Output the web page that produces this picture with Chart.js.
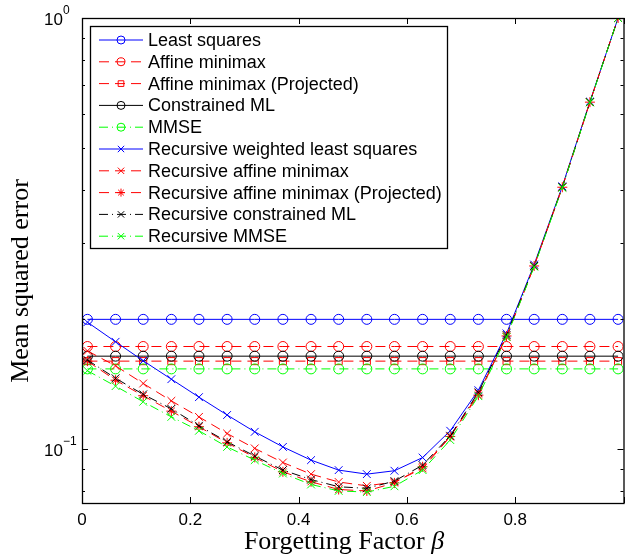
<!DOCTYPE html>
<html>
<head>
<meta charset="utf-8">
<script src="https://cdn.jsdelivr.net/npm/chart.js@4.4.0/dist/chart.umd.min.js"></script>
<style>
  html, body { margin: 0; padding: 0; background: #fff; overflow: hidden; width: 626px; height: 556px; }
  canvas { display: block; }
</style>
</head>
<body>
<canvas id="mseChart" width="630" height="556"></canvas>
<script>
// forgetting factor values (x)
const betaValues = [0.01, 0.062, 0.113, 0.165, 0.216, 0.268, 0.319, 0.371, 0.423, 0.474,
                    0.526, 0.577, 0.629, 0.680, 0.732, 0.784, 0.835, 0.887, 0.938, 0.99];

// batch estimators (flat in beta)
const leastSquares   = [0.2, 0.2, 0.2, 0.2, 0.2, 0.2, 0.2, 0.2, 0.2, 0.2, 0.2, 0.2, 0.2, 0.2, 0.2, 0.2, 0.2, 0.2, 0.2, 0.2];
const affineMinimax  = [0.173, 0.173, 0.173, 0.173, 0.173, 0.173, 0.173, 0.173, 0.173, 0.173, 0.173, 0.173, 0.173, 0.173, 0.173, 0.173, 0.173, 0.173, 0.173, 0.173];
const affineProj     = [0.160, 0.160, 0.160, 0.160, 0.160, 0.160, 0.160, 0.160, 0.160, 0.160, 0.160, 0.160, 0.160, 0.160, 0.160, 0.160, 0.160, 0.160, 0.160, 0.160];
const constrainedML  = [0.1643, 0.1643, 0.1643, 0.1643, 0.1643, 0.1643, 0.1643, 0.1643, 0.1643, 0.1643, 0.1643, 0.1643, 0.1643, 0.1643, 0.1643, 0.1643, 0.1643, 0.1643, 0.1643, 0.1643];
const mmse           = [0.1535, 0.1535, 0.1535, 0.1535, 0.1535, 0.1535, 0.1535, 0.1535, 0.1535, 0.1535, 0.1535, 0.1535, 0.1535, 0.1535, 0.1535, 0.1535, 0.1535, 0.1535, 0.1535, 0.1535];

// recursive estimators
const recWLS         = [0.197, 0.1774, 0.1603, 0.1453, 0.132, 0.120, 0.1097, 0.1012, 0.0943, 0.0894, 0.0875, 0.0891, 0.0956, 0.1103, 0.137, 0.1855, 0.268, 0.407, 0.640, 1.0];
const recAffine      = [0.169, 0.156, 0.142, 0.1294, 0.1188, 0.1087, 0.1004, 0.0931, 0.0875, 0.0839, 0.0822, 0.0839, 0.0902, 0.1069, 0.1346, 0.182, 0.266, 0.405, 0.638, 1.0];
const recAffineProj  = [0.160, 0.1445, 0.133, 0.1225, 0.1127, 0.1034, 0.0957, 0.0886, 0.0840, 0.0806, 0.0800, 0.0835, 0.0910, 0.107, 0.1334, 0.183, 0.266, 0.405, 0.638, 1.0];
const recCML         = [0.161, 0.146, 0.134, 0.124, 0.1133, 0.104, 0.0964, 0.0894, 0.0850, 0.0818, 0.0811, 0.0843, 0.0918, 0.1074, 0.1355, 0.184, 0.266, 0.405, 0.638, 1.0];
const recMMSE        = [0.152, 0.140, 0.1288, 0.1188, 0.1103, 0.1012, 0.0943, 0.0878, 0.0828, 0.0800, 0.0795, 0.0820, 0.0894, 0.105, 0.1327, 0.182, 0.265, 0.404, 0.637, 1.0];

const xTicks = [0, 0.2, 0.4, 0.6, 0.8, 1.0];
const xTickLabels = ['0', '0.2', '0.4', '0.6', '0.8', ''];
const yMajorTicks = [0.1, 1];
const yMajorExp = ['\u22121', '0'];
const yMinorTicks = [0.08, 0.09, 0.2, 0.3, 0.4, 0.5, 0.6, 0.7, 0.8, 0.9];

const DASH = [10, 6];
const DASHDOT = [9, 4, 1, 4];

const mk = (label, values, color, dash, style, radius) => ({
    label,
    data: betaValues.map((b, i) => ({ x: b, y: values[i] })),
    borderColor: color,
    backgroundColor: 'transparent',
    borderWidth: 1,
    borderDash: dash,
    pointStyle: style,
    pointRadius: radius,
    pointBorderColor: color,
    pointBackgroundColor: 'transparent',
    pointBorderWidth: 1,
    tension: 0,
    fill: false
});

const datasets = [
    mk('Least squares', leastSquares, '#0000ff', [], 'circle', 5),
    mk('Affine minimax', affineMinimax, '#ff0000', DASH, 'circle', 5),
    mk('Affine minimax (Projected)', affineProj, '#ff0000', DASH, 'rect', 5),
    mk('Constrained ML', constrainedML, '#000000', [], 'circle', 5),
    mk('MMSE', mmse, '#00ff00', DASHDOT, 'circle', 5),
    mk('Recursive weighted least squares', recWLS, '#0000ff', [], 'crossRot', 5.5),
    mk('Recursive affine minimax', recAffine, '#ff0000', DASH, 'crossRot', 5.5),
    mk('Recursive affine minimax (Projected)', recAffineProj, '#ff0000', DASH, 'star', 5),
    mk('Recursive constrained ML', recCML, '#000000', DASHDOT, 'crossRot', 5.5),
    mk('Recursive MMSE', recMMSE, '#00ff00', DASHDOT, 'crossRot', 5.5)
];
// matlab draws later lines on top
datasets.forEach((d, i) => { d.order = datasets.length - i; });

const SANS = '"Liberation Sans", Arial, Helvetica, sans-serif';
const SERIF = '"Liberation Serif", "Times New Roman", Times, serif';

// axes box, inward ticks, labels and legend in matlab style
const matlabAxes = {
    id: 'matlabAxes',
    afterDraw(chart) {
        const { ctx, chartArea: a, scales: { x, y } } = chart;
        ctx.save();
        ctx.strokeStyle = '#000';
        ctx.fillStyle = '#000';
        ctx.lineWidth = 1;
        ctx.setLineDash([]);

        // ticks
        ctx.beginPath();
        xTicks.forEach(v => {
            const px = Math.round(x.getPixelForValue(v)) + 0.5;
            ctx.moveTo(px, a.bottom); ctx.lineTo(px, a.bottom - 6);
            ctx.moveTo(px, a.top); ctx.lineTo(px, a.top + 6);
        });
        yMajorTicks.forEach(v => {
            const py = Math.round(y.getPixelForValue(v)) + 0.5;
            ctx.moveTo(a.left, py); ctx.lineTo(a.left + 6, py);
            ctx.moveTo(a.right, py); ctx.lineTo(a.right - 6, py);
        });
        yMinorTicks.forEach(v => {
            const py = Math.round(y.getPixelForValue(v)) + 0.5;
            ctx.moveTo(a.left, py); ctx.lineTo(a.left + 3, py);
            ctx.moveTo(a.right, py); ctx.lineTo(a.right - 3, py);
        });
        ctx.stroke();

        // box
        ctx.lineWidth = 1.3;
        ctx.strokeRect(a.left + 0.5, a.top + 0.5, a.right - a.left, a.bottom - a.top);

        // x tick labels
        ctx.font = '17px ' + SANS;
        ctx.textAlign = 'center';
        ctx.textBaseline = 'top';
        xTicks.forEach((v, i) => {
            ctx.fillText(xTickLabels[i], x.getPixelForValue(v), a.bottom + 9);
        });

        // y tick labels 10^k
        yMajorTicks.forEach((v, i) => {
            const py = y.getPixelForValue(v);
            ctx.font = '17px ' + SANS;
            ctx.textAlign = 'right';
            ctx.textBaseline = 'middle';
            ctx.fillText('10', 63, py + 2);
            ctx.font = '12px ' + SANS;
            ctx.textAlign = 'left';
            ctx.fillText(yMajorExp[i], 63, py - 7);
        });

        // axis titles
        ctx.font = '26px ' + SERIF;
        ctx.textBaseline = 'alphabetic';
        const t1 = 'Forgetting Factor ';
        const w1 = ctx.measureText(t1).width;
        ctx.font = 'italic 26px ' + SERIF;
        const w2 = ctx.measureText('\u03b2').width;
        const startX = 344 - (w1 + w2) / 2;
        ctx.textAlign = 'left';
        ctx.font = '26px ' + SERIF;
        ctx.fillText(t1, startX, 549);
        ctx.font = 'italic 26px ' + SERIF;
        ctx.fillText('\u03b2', startX + w1, 549);

        ctx.save();
        ctx.translate(28, 281);
        ctx.rotate(-Math.PI / 2);
        ctx.font = '26px ' + SERIF;
        ctx.textAlign = 'center';
        ctx.fillText('Mean squared error', 0, 0);
        ctx.restore();

        // legend
        const lx = 90.5, ly = 26.5, lw = 357, lh = 222;
        ctx.fillStyle = '#fff';
        ctx.fillRect(lx, ly, lw, lh);
        ctx.lineWidth = 1.3;
        ctx.strokeStyle = '#000';
        ctx.strokeRect(lx, ly, lw, lh);
        chart.data.datasets.forEach((d, i) => {
            const ry = 40 + i * 21.8;
            ctx.save();
            ctx.strokeStyle = d.borderColor;
            ctx.lineWidth = 1;
            ctx.setLineDash(d.borderDash);
            ctx.beginPath();
            ctx.moveTo(99, ry);
            ctx.lineTo(143, ry);
            ctx.stroke();
            ctx.setLineDash([]);
            ctx.fillStyle = 'rgba(0,0,0,0)';
            Chart.helpers.drawPoint(ctx, {
                pointStyle: d.pointStyle, radius: d.pointRadius - 1, rotation: 0, borderWidth: 1
            }, 121, ry);
            ctx.restore();
            ctx.fillStyle = '#000';
            ctx.font = '18px ' + SANS;
            ctx.textAlign = 'left';
            ctx.textBaseline = 'middle';
            ctx.fillText(d.label, 148, ry + 1);
        });
        ctx.restore();
    }
};

new Chart(document.getElementById('mseChart'), {
    type: 'line',
    data: { datasets },
    options: {
        responsive: false,
        animation: false,
        layout: { padding: { left: 82, top: 18, right: 3, bottom: 53 } },
        scales: {
            x: { type: 'linear', min: 0, max: 1, display: false },
            y: { type: 'logarithmic', min: 0.075, max: 1, display: false }
        },
        plugins: { legend: { display: false }, tooltip: { enabled: false } }
    },
    plugins: [matlabAxes]
});
</script>
</body>
</html>
